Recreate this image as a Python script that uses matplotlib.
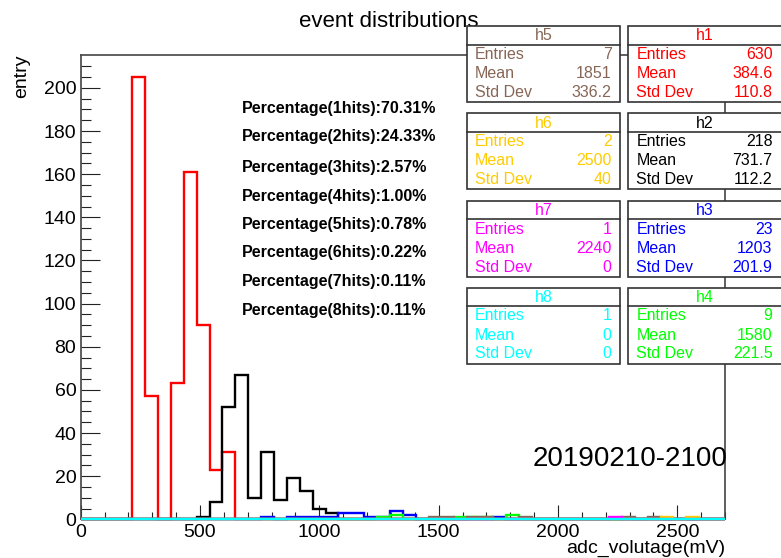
import matplotlib
matplotlib.use("Agg")
import matplotlib.pyplot as plt
from matplotlib.patches import Rectangle
from matplotlib.lines import Line2D
import numpy as np

plt.rcParams['font.family'] = ['Liberation Sans', 'DejaVu Sans']

# ---- histogram binning ----
x_min, x_max, n_bins = 0, 2700, 50

# ---- bin contents: {bin index: count} ----
h1_counts = {4: 205, 5: 57, 7: 63, 8: 161, 9: 90, 10: 23, 11: 31}
h2_counts = {9: 1, 10: 8, 11: 52, 12: 67, 13: 10, 14: 31, 15: 9, 16: 19,
             17: 13, 18: 5, 19: 3}
h3_counts = {14: 1, 16: 1, 17: 1, 18: 1, 19: 1, 20: 3, 21: 3, 22: 1,
             23: 1, 24: 4, 25: 2, 32: 1}
h4_counts = {23: 1, 24: 2, 29: 1, 30: 1, 31: 1, 33: 2}
h5_counts = {27: 1, 28: 1, 30: 1, 31: 1, 34: 1, 42: 1, 44: 1}
h6_counts = {45: 1, 47: 1}
h7_counts = {41: 1}
h8_counts = {}

# ---- statistics boxes ----
hist_names = ["h1", "h2", "h3", "h4", "h5", "h6", "h7", "h8"]
hist_colors = ["#ff0000", "#000000", "#0000ff", "#00ff00",
               "#876656", "#ffcc00", "#ff00ff", "#00ffff"]
stat_entries = ["630", "218", "23", "9", "7", "2", "1", "1"]
stat_means = ["384.6", "731.7", "1203", "1580", "1851", "2500", "2240", "0"]
stat_stddevs = ["110.8", "112.2", "201.9", "221.5", "336.2", "40", "0", "0"]

# ---- annotation texts ----
hit_percentages = ["70.31%", "24.33%", "2.57%", "1.00%",
                   "0.78%", "0.22%", "0.11%", "0.11%"]
title_text = "event distributions"
run_label = "20190210-2100"
x_label = "adc_volutage(mV)"
y_label = "entry"

W, H = 781, 558
fig = plt.figure(figsize=(W / 100, H / 100), dpi=100)


def fx(px):
    return px / W


def fy(py):
    return 1 - py / H


ax_left, ax_right, ax_top, ax_bottom = 80.7, 725.0, 55.0, 519.3
ax = fig.add_axes([fx(ax_left), fy(ax_bottom),
                   fx(ax_right - ax_left), (ax_bottom - ax_top) / H])

edges = np.linspace(x_min, x_max, n_bins + 1)
all_counts = [h1_counts, h2_counts, h3_counts, h4_counts,
              h5_counts, h6_counts, h7_counts, h8_counts]
y_peak = 0
for z, (counts, color) in enumerate(zip(all_counts, hist_colors)):
    values = np.zeros(n_bins)
    for b, c in counts.items():
        values[b] = c
    y_peak = max(y_peak, values.max())
    ax.stairs(values, edges, baseline=0, color=color, linewidth=1.7,
              clip_on=False, zorder=2 + z)

ax.set_xlim(x_min, x_max)
ax.set_ylim(0, 1.05 * y_peak)

ax.set_xticks(np.arange(0, 2701, 500))
ax.set_xticks(np.arange(0, 2701, 100), minor=True)
ax.set_yticks(np.arange(0, 201, 20))
ax.set_yticks(np.arange(0, 211, 5), minor=True)

ax.tick_params(axis='y', which='major', direction='in', length=13.7,
               width=0.8, labelsize=14, pad=3.2, color='#222222')
ax.tick_params(axis='y', which='minor', direction='in', length=6.9,
               width=0.8, color='#222222')
ax.tick_params(axis='x', which='major', direction='in', length=10,
               width=0.8, labelsize=14, pad=3.5, color='#222222')
ax.tick_params(axis='x', which='minor', direction='in', length=5,
               width=0.8, color='#222222')
for side in ax.spines.values():
    side.set_color('#444444')
    side.set_linewidth(1.2)

# axis titles and labels
fig.text(fx(388.5), fy(27), title_text, ha='center', va='baseline',
         fontsize=16, zorder=1)
fig.text(fx(22), fy(55), y_label, rotation=90, ha='center', va='top',
         fontsize=14)
fig.text(fx(725), fy(553), x_label, ha='right', va='baseline', fontsize=14)
fig.text(fx(533), fy(466), run_label, ha='left', va='baseline', fontsize=20)

line_y = [108.3, 136.7, 167.3, 196.0, 224.0, 252.7, 281.3, 310.0]
for i, (pct, yy) in enumerate(zip(hit_percentages, line_y)):
    fig.text(fx(241.7), fy(yy), f"Percentage({i + 1}hits):{pct}",
             ha='left', va='center', fontsize=11.5, fontweight='bold')

# statistics boxes: right column h1-h4, left column h5-h8
box_tops = [26.0, 113.3, 200.7, 287.5]
box_h, head_h = 76.0, 18.5
columns = [(628.3, 781.5), (466.7, 620.0)]
for k, name in enumerate(hist_names):
    left, right = columns[k // 4]
    top = box_tops[k % 4]
    color = hist_colors[k]
    fig.add_artist(Rectangle((fx(left), fy(top + box_h)), fx(right - left),
                             box_h / H, transform=fig.transFigure,
                             facecolor='white', edgecolor='#333333',
                             linewidth=1.2, zorder=5))
    fig.add_artist(Line2D([fx(left), fx(right)],
                          [fy(top + head_h), fy(top + head_h)],
                          transform=fig.transFigure, color='#333333',
                          linewidth=1.2, zorder=6))
    inner_right = min(right, 781.0)
    fig.text(fx((left + inner_right) / 2), fy(top + 10), name,
             ha='center', va='center', fontsize=11.5, color=color, zorder=7)
    rows = [("Entries", stat_entries[k]), ("Mean", stat_means[k]),
            ("Std Dev", stat_stddevs[k])]
    for r, (lab, val) in enumerate(rows):
        yy = top + 28.5 + 19 * r
        fig.text(fx(left + 8), fy(yy), lab, ha='left', va='center',
                 fontsize=11.5, color=color, zorder=7)
        fig.text(fx(inner_right - 8.5), fy(yy), val, ha='right',
                 va='center', fontsize=11.5, color=color, zorder=7)

fig.savefig("out.png", dpi=100)
